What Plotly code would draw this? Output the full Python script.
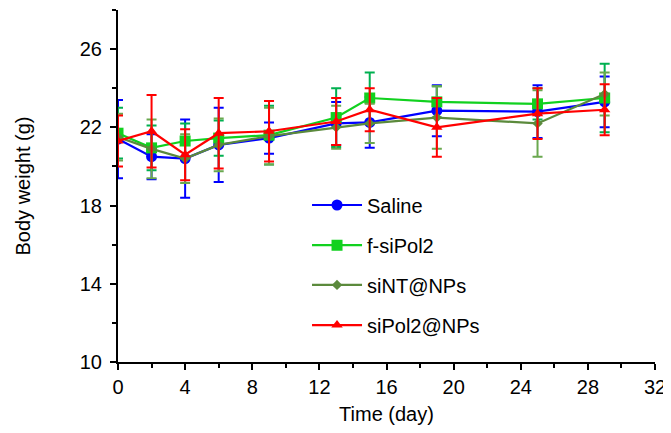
import plotly.graph_objects as go

days = [0, 2, 4, 6, 9, 13, 15, 19, 25, 29]

saline = [21.4, 20.5, 20.4, 21.1, 21.45, 22.2, 22.25, 22.85, 22.8, 23.3]
saline_err = [2.0, 1.15, 2.0, 1.9, 0.8, 1.1, 1.3, 1.3, 1.35, 1.3]

fsipol2 = [21.7, 20.95, 21.3, 21.45, 21.6, 22.5, 23.5, 23.3, 23.2, 23.5]
fsipol2_err = [1.3, 1.15, 0.9, 0.9, 1.5, 1.5, 1.3, 0.8, 0.8, 1.75]

sint = [21.5, 20.9, 20.4, 21.1, 21.55, 22.0, 22.2, 22.5, 22.2, 23.7]
sint_err = [1.2, 1.5, 1.25, 1.35, 1.45, 1.1, 1.0, 1.6, 1.7, 1.1]

sipol2 = [21.3, 21.8, 20.6, 21.7, 21.8, 22.3, 22.9, 22.0, 22.7, 22.9]
sipol2_err = [1.3, 1.85, 1.3, 1.8, 1.55, 1.2, 1.1, 1.5, 1.3, 1.3]

names = ["Saline", "f-siPol2", "siNT@NPs", "siPol2@NPs"]
series = [saline, fsipol2, sint, sipol2]
errors = [saline_err, fsipol2_err, sint_err, sipol2_err]
colors = ["#0000FF", "#11D11F", "#5B8A3C", "#FF0000"]
err_colors = ["#0000FF", "#00B050", "#6AA84F", "#FF0000"]
symbols = ["circle", "square", "diamond", "triangle-up"]
sizes = [11, 11, 8, 10]
legend_ids = ["legend", "legend2", "legend3", "legend4"]
legend_y = [0.446, 0.332, 0.219, 0.105]

fig = go.Figure()
for name, ys, es, c, ec, sym, sz, lg in zip(names, series, errors, colors, err_colors, symbols, sizes, legend_ids):
    fig.add_trace(go.Scatter(
        x=days, y=ys, name=name, mode="lines+markers",
        line=dict(color=c, width=2.2),
        marker=dict(color=c, symbol=sym, size=sz),
        error_y=dict(type="data", array=es, visible=True, color=ec, thickness=2, width=5),
        legend=lg,
    ))

font = "Liberation Sans, Arial, sans-serif"
layout_legends = {}
for lg, ly in zip(legend_ids, legend_y):
    layout_legends[lg] = dict(x=0.352, y=ly, xanchor="left", yanchor="middle",
                              bgcolor="rgba(0,0,0,0)", font=dict(size=20, family=font, color="black"),
                              itemwidth=50)

fig.update_layout(
    width=663, height=425,
    margin=dict(l=110, r=16, t=2, b=71),
    paper_bgcolor="white", plot_bgcolor="white",
    font=dict(family=font, size=20, color="black"),
    showlegend=True,
    xaxis=dict(range=[0, 32], dtick=4, tick0=0, showgrid=False, zeroline=False,
               showline=True, linecolor="black", linewidth=2,
               ticks="outside", ticklen=6, tickwidth=2, tickcolor="black",
               minor=dict(dtick=2, ticks="outside", ticklen=4, tickwidth=1.5, tickcolor="black"),
               title=dict(text="Time (day)", font=dict(size=20), standoff=10),
               tickfont=dict(size=20)),
    yaxis=dict(range=[10, 28], tickvals=[10, 14, 18, 22, 26], showgrid=False, zeroline=False,
               showline=True, linecolor="black", linewidth=2,
               ticks="outside", ticklen=6, tickwidth=2, tickcolor="black",
               ticklabelstandoff=4,
               minor=dict(tickvals=[12, 16, 20, 24, 28], ticks="outside", ticklen=4, tickwidth=1.5, tickcolor="black"),
               title=dict(text="Body weight (g)", font=dict(size=20), standoff=44),
               tickfont=dict(size=20)),
    **layout_legends,
)

fig.write_html("out.html")
